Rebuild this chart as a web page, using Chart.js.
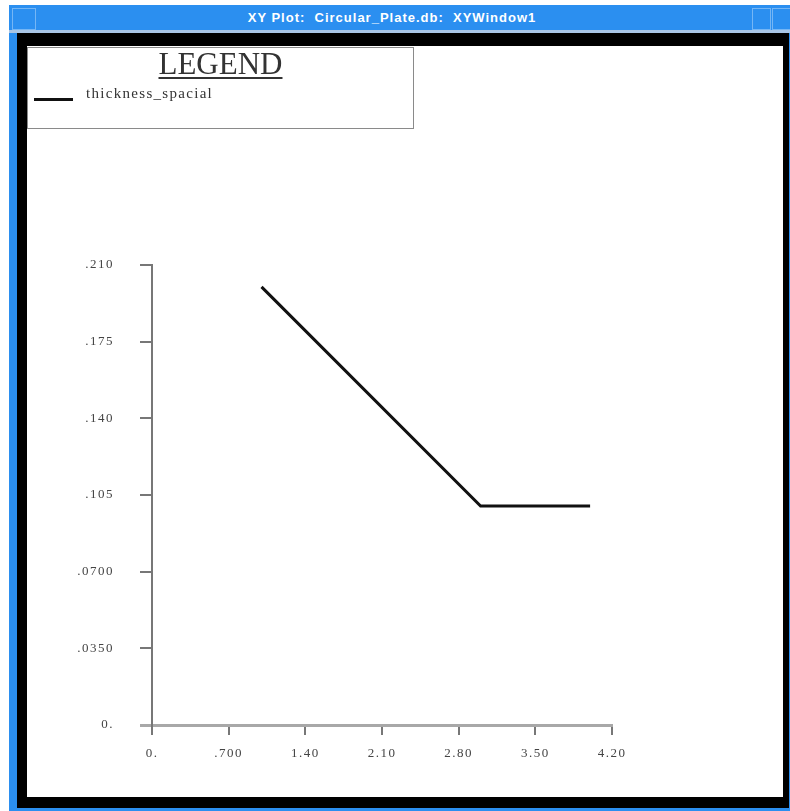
<!DOCTYPE html>
<html><head><meta charset="utf-8">
<script src="https://cdn.jsdelivr.net/npm/chart.js@4.4.1/dist/chart.umd.min.js"></script>
<style>
html,body{margin:0;padding:0;background:#fff;width:790px;height:811px;overflow:hidden;position:relative;}
#win{position:absolute;left:9px;top:5px;width:781px;height:806px;background:#2b8ff0;}
#titleline{position:absolute;left:9px;top:30px;width:781px;height:3px;background:#a9c6e6;}
#btnL{position:absolute;left:12px;top:8px;width:22px;height:20px;border:1px solid rgba(255,255,255,0.35);}
#btnR1{position:absolute;left:752px;top:8px;width:17px;height:20px;border:1px solid rgba(255,255,255,0.35);}
#btnR2{position:absolute;left:772px;top:8px;width:17px;height:20px;border:1px solid rgba(255,255,255,0.35);}
#title{position:absolute;left:392px;top:10px;transform:translateX(-50%);color:#fff;font:bold 13px "Liberation Sans",sans-serif;white-space:nowrap;letter-spacing:1px;}
#frame{position:absolute;left:17px;top:33px;width:772px;height:775px;background:#000;}
#inner{position:absolute;left:27px;top:46px;width:756px;height:751px;background:#fff;}
#legend{position:absolute;left:27px;top:47px;width:385px;height:80px;border:1px solid #8a8a8a;background:#fff;}
#legTitle{position:absolute;left:0;width:100%;top:-2px;text-align:center;font:31px "Liberation Serif",serif;color:#333;text-decoration:underline;text-decoration-thickness:2px;text-underline-offset:3px;}
#legLine{position:absolute;left:6px;top:50px;width:39px;height:3px;background:#111;}
#legText{position:absolute;left:58px;top:37px;font:15px "Liberation Serif",serif;color:#333;letter-spacing:1.3px;white-space:nowrap;}
canvas{position:absolute;left:0;top:0;}
</style>
</head>
<body>
<div id="win"></div>
<div id="titleline"></div>
<div id="btnL"></div><div id="btnR1"></div><div id="btnR2"></div>
<div id="title">XY Plot:&nbsp; Circular_Plate.db:&nbsp; XYWindow1</div>
<div id="frame"></div>
<div id="inner"></div>
<canvas id="c" width="790" height="811"></canvas>
<div id="legend">
  <div id="legTitle">LEGEND</div>
  <div id="legLine"></div>
  <div id="legText"></div>
</div>
<script>
const seriesName = 'thickness_spacial';
const xValues = [1.0, 3.0, 4.0];
const thickness = [0.2, 0.1, 0.1];
const xTickValues = [0, 0.7, 1.4, 2.1, 2.8, 3.5, 4.2];
const xTickLabels = ['0.', '.700', '1.40', '2.10', '2.80', '3.50', '4.20'];
const yTickValues = [0, 0.035, 0.07, 0.105, 0.14, 0.175, 0.21];
const yTickLabels = ['0.', '.0350', '.0700', '.105', '.140', '.175', '.210'];

document.getElementById('legText').textContent = seriesName;

const spacing = {id:'spacing', beforeDraw(c){ c.ctx.letterSpacing = '1.5px'; }};
const tickFont = {family:'"Liberation Serif", serif', size:13};

new Chart(document.getElementById('c'), {
  type:'line',
  data:{
    datasets:[{
      label: seriesName,
      data: xValues.map((x,i)=>({x:x, y:thickness[i]})),
      borderColor:'#111',
      borderWidth:3,
      pointRadius:0,
      tension:0,
      fill:false
    }]
  },
  options:{
    responsive:false,
    devicePixelRatio:1,
    animation:false,
    events:[],
    layout:{padding:{left:0, top:265, right:178, bottom:0}},
    plugins:{legend:{display:false}, tooltip:{enabled:false}},
    scales:{
      x:{
        type:'linear', min:0, max:4.2,
        afterFit(s){ s.height = 86; },
        afterBuildTicks(s){ s.ticks = xTickValues.map(v=>({value:v})); },
        border:{display:true, color:'#a8a8a8', width:3},
        grid:{drawOnChartArea:false, drawTicks:true, tickLength:10, color:'#777', lineWidth:2},
        ticks:{autoSkip:false, maxRotation:0, padding:11, color:'#444', font:tickFont,
          callback:(v,i)=>xTickLabels[i]}
      },
      y:{
        type:'linear', min:0, max:0.21,
        afterFit(s){ s.width = 152; },
        afterBuildTicks(s){ s.ticks = yTickValues.map(v=>({value:v})); },
        border:{display:true, color:'#777', width:2},
        grid:{drawOnChartArea:false, drawTicks:true, tickLength:12,
          color:(ctx)=> ctx.index===0 ? '#a8a8a8' : '#777',
          lineWidth:(ctx)=> ctx.index===0 ? 3 : 2},
        ticks:{autoSkip:false, padding:26, color:'#444', font:tickFont,
          callback:(v,i)=>yTickLabels[i]}
      }
    }
  },
  plugins:[spacing]
});
</script>
</body></html>
